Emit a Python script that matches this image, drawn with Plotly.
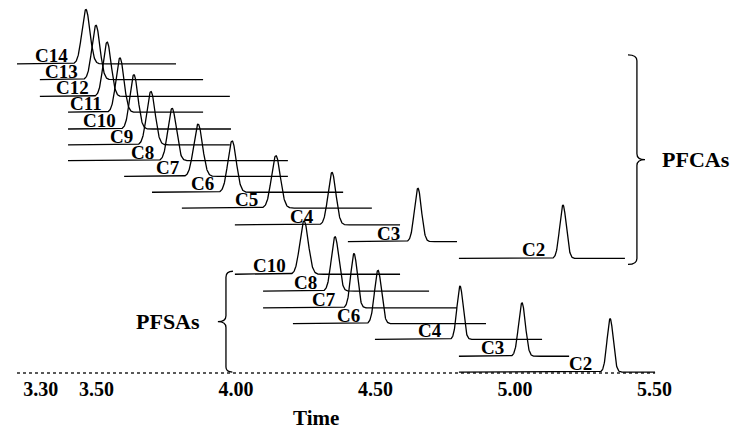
import numpy as np
import plotly.graph_objects as go

# ---------------- data (time in min, signal offset in arbitrary units) ----------------
pfca_labels = ["C14", "C13", "C12", "C11", "C10", "C9", "C8", "C7", "C6", "C5", "C4", "C3", "C2"]
pfca_rt = [3.462, 3.498, 3.538, 3.584, 3.634, 3.695, 3.771, 3.864, 3.986, 4.143, 4.344, 4.652, 5.172]
pfca_height = [55, 55, 55, 55, 55, 54, 53, 53, 52, 53, 53, 54, 54]
pfca_sigma = [0.0143, 0.0143, 0.0143, 0.0143, 0.0143, 0.0150, 0.0150, 0.0158, 0.0150, 0.0158, 0.0140, 0.0125, 0.0118]
pfca_offset = [313, 297, 280, 264, 247, 231, 215, 199, 183, 167, 150, 133, 116]
pfca_start = [3.215, 3.297, 3.297, 3.398, 3.398, 3.398, 3.398, 3.599, 3.699, 3.806, 3.996, 4.401, 4.799]
pfca_end = [3.785, 3.882, 3.978, 3.882, 3.982, 3.978, 4.186, 4.186, 4.384, 4.487, 4.588, 4.792, 5.394]

pfsa_labels = ["C10", "C8", "C7", "C6", "C4", "C3", "C2"]
pfsa_rt = [4.244, 4.355, 4.423, 4.509, 4.803, 5.025, 5.341]
pfsa_height = [54, 55, 55, 54, 54, 54, 54]
pfsa_sigma = [0.0150, 0.0133, 0.0118, 0.0125, 0.0111, 0.0122, 0.0111]
pfsa_offset = [100, 83, 66, 50, 34, 17, 1]
pfsa_start = [3.996, 4.097, 4.097, 4.204, 4.498, 4.799, 4.799]
pfsa_end = [4.588, 4.692, 4.792, 4.896, 5.097, 5.194, 5.502]

baseline_start = 3.215
baseline_end = 5.502

tick_vals = [3.30, 3.50, 4.00, 4.50, 5.00, 5.50]
tick_text = ["3.30", "3.50", "4.00", "4.50", "5.00", "5.50"]

# ---------------- figure ----------------
FONT = "Liberation Serif"
PX_PER_MIN = 279.0
fig = go.Figure()

# dotted time baseline
fig.add_trace(go.Scatter(x=[baseline_start, baseline_end], y=[0, 0], mode="lines",
                         line=dict(color="#222", width=1.6, dash="dot"), hoverinfo="skip"))

annotations = []


def add_group(labels, rt, height, sigma, offset, start, end):
    for lab, t0, h, s, off, a, b in zip(labels, rt, height, sigma, offset, start, end):
        t = np.linspace(a, b, 700)
        y = off + h * np.exp(-((t - t0) ** 2) / (2 * s ** 2))
        fig.add_trace(go.Scatter(x=t, y=y, mode="lines", name=lab,
                                 line=dict(color="black", width=1.3), hoverinfo="skip"))
        annotations.append(dict(x=t0 - 16 / PX_PER_MIN, y=off, xref="x", yref="y",
                                text=lab, showarrow=False, xanchor="right", yanchor="bottom",
                                yshift=-4, font=dict(family=FONT, size=19, color="black", weight="bold")))


add_group(pfca_labels, pfca_rt, pfca_height, pfca_sigma, pfca_offset, pfca_start, pfca_end)
add_group(pfsa_labels, pfsa_rt, pfsa_height, pfsa_sigma, pfsa_offset, pfsa_start, pfsa_end)

# group brackets
shapes = [
    # PFCAs  "}"
    dict(type="path", xref="x", yref="y",
         path="M 5.405,322 Q 5.437,322 5.437,316 L 5.437,222 Q 5.437,216 5.466,216 "
              "Q 5.437,216 5.437,210 L 5.437,116 Q 5.437,110 5.405,110",
         line=dict(color="black", width=1.3)),
    # PFSAs  "{"
    dict(type="path", xref="x", yref="y",
         path="M 3.989,103 Q 3.964,103 3.964,97 L 3.964,58 Q 3.964,52 3.935,52 "
              "Q 3.964,52 3.964,46 L 3.964,6 Q 3.964,1 3.987,1",
         line=dict(color="black", width=1.3)),
]

annotations += [
    dict(x=5.520, y=216, xref="x", yref="y", text="PFCAs", showarrow=False,
         xanchor="left", yanchor="middle", font=dict(family=FONT, size=22, color="black", weight="bold")),
    dict(x=3.878, y=52, xref="x", yref="y", text="PFSAs", showarrow=False,
         xanchor="right", yanchor="middle", font=dict(family=FONT, size=22, color="black", weight="bold")),
    dict(x=4.287, y=-0.117, xref="x", yref="paper", text="Time", showarrow=False,
         xanchor="center", yanchor="middle", font=dict(family=FONT, size=21, color="black", weight="bold")),
]

# the page body adds an 8 px margin, so the figure is 730x424 and its
# ranges start at reference pixel 8
fig.update_layout(
    width=730, height=424,
    margin=dict(l=0, r=0, t=0, b=57),
    paper_bgcolor="white", plot_bgcolor="white",
    showlegend=False,
    shapes=shapes, annotations=annotations,
    xaxis=dict(range=[4 - 228 / PX_PER_MIN, 4 + 502 / PX_PER_MIN], showgrid=False, zeroline=False,
               showline=False, ticks="", tickvals=tick_vals, ticktext=tick_text,
               tickfont=dict(family=FONT, size=20, color="black", weight="bold")),
    yaxis=dict(range=[-2, 369.5], visible=False, showgrid=False, zeroline=False),
)

fig.write_html("out.html")
